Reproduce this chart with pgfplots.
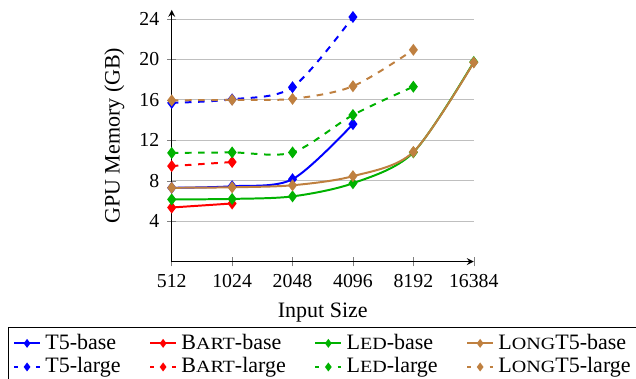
\documentclass[border=0pt]{standalone}
\usepackage{fontspec}
\setmainfont{Liberation Serif}
\newfontfamily\scfont[FakeStretch=1.17]{Liberation Serif}
\usepackage{pgfplots}
\pgfplotsset{compat=1.18}
\definecolor{ledgreen}{rgb}{0,0.7,0}
\newcommand\fsc[1]{{\scfont\fontsize{7.8}{9}\selectfont #1}}
\begin{document}
\begin{tikzpicture}
\begin{axis}[
  scale only axis,
  width=137.3pt, height=114.4pt,
  xmode=log, log basis x=2,
  xmin=512, xmax=16384,
  ymin=0, ymax=24.9,
  axis lines=left,
  tick align=center,
  xtick={512,1024,2048,4096,8192,16384},
  xticklabels={512,1024,2048,4096,8192,16384},
  ytick={4,8,12,16,20,24},
  ticklabel style={font=\small},
  ymajorgrids,
  grid style={gray!50, line width=0.4pt},
  /pgf/number format/assume math mode=true,
  xlabel={Input Size},
  ylabel={GPU Memory (GB)},
  every axis plot/.append style={line width=0.9pt, mark=diamond*, smooth},
  legend columns=4,
  legend cell align=left,
  legend style={at={(0,0)}, anchor=north west, xshift=-74.3pt, yshift=-29.7pt,
    draw=black, line width=0.5pt, inner xsep=2pt, inner ysep=1pt, row sep=-1.7pt,
    /tikz/every even column/.append style={column sep=11pt}},
  legend image code/.code={\draw[mark size=1.3pt, mark repeat=2,mark phase=2] plot coordinates {(0pt,0pt)(5.85pt,0pt)(11.7pt,0pt)};},
  dashedleg/.style={dashed, mark options={solid},
    legend image code/.code={\draw[dash pattern=on 1.6pt off 8.5pt, mark size=1.3pt, mark repeat=2,mark phase=2] plot coordinates {(0pt,0pt)(5.85pt,0pt)(11.7pt,0pt)};}},
]
\addplot[blue] coordinates {(512,7.3)(1024,7.45)(2048,8.15)(4096,13.6)};
\addlegendentry{T5-base}
\addplot[red] coordinates {(512,5.35)(1024,5.75)};
\addlegendentry{B\fsc{ART}-base}
\addplot[ledgreen] coordinates {(512,6.15)(1024,6.2)(2048,6.45)(4096,7.75)(8192,10.8)(16384,19.75)};
\addlegendentry{L\fsc{ED}-base}
\addplot[brown] coordinates {(512,7.3)(1024,7.35)(2048,7.55)(4096,8.45)(8192,10.85)(16384,19.7)};
\addlegendentry{L\fsc{ONG}T5-base}
\addplot[blue, dashedleg] coordinates {(512,15.7)(1024,16.05)(2048,17.25)(4096,24.2)};
\addlegendentry{T5-large}
\addplot[red, dashedleg] coordinates {(512,9.45)(1024,9.85)};
\addlegendentry{B\fsc{ART}-large}
\addplot[ledgreen, dashedleg] coordinates {(512,10.75)(1024,10.8)(2048,10.8)(4096,14.5)(8192,17.3)};
\addlegendentry{L\fsc{ED}-large}
\addplot[brown, dashedleg] coordinates {(512,15.95)(1024,16.0)(2048,16.1)(4096,17.35)(8192,20.95)};
\addlegendentry{L\fsc{ONG}T5-large}
\end{axis}
\pgfresetboundingbox
\useasboundingbox (-78.05pt,-53.36pt) rectangle (211.05pt,118.9pt);
\end{tikzpicture}
\end{document}
